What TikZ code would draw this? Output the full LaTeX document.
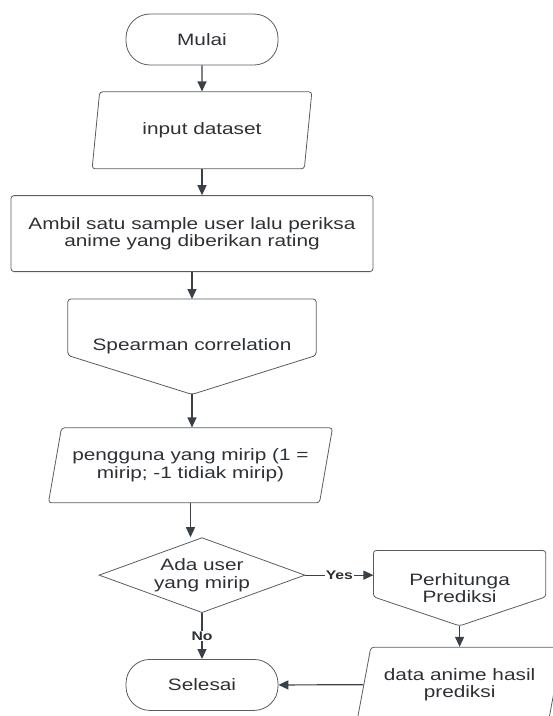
\documentclass[tikz,border=0pt]{standalone}
\usepackage{fontspec}
\setmainfont{Liberation Sans}[FakeStretch=1.26]
\usetikzlibrary{arrows.meta,positioning,shapes.geometric}
\definecolor{lineclr}{RGB}{58,64,72}
\definecolor{edgeclr}{RGB}{88,92,98}
\definecolor{txtclr}{RGB}{45,48,52}

\begin{document}
\begin{tikzpicture}[
      x=1pt,y=1pt,
      font=\fontsize{16.5}{17.5}\selectfont,
      base/.style={draw=edgeclr,line width=0.8pt,align=center,inner sep=0pt,text=txtclr},
      terminal/.style={base,rounded corners=24pt,minimum width=152pt,minimum height=51pt},
      process/.style={base,rounded corners=3pt,minimum width=362pt,minimum height=76pt},
      io/.style={base,trapezium,trapezium stretches=true,rounded corners=3pt},
      decision/.style={base,diamond,aspect=2.75,minimum width=206pt,minimum height=75pt},
      offpage/.style={align=center,inner sep=0pt,text=txtclr},
      outline/.style={draw=edgeclr,line width=0.8pt,rounded corners=3pt},
      flow/.style={draw=lineclr,line width=1.2pt,-{Triangle[length=10pt,width=9pt]}},
      lbl/.style={font=\bfseries\fontsize{12.5}{14}\selectfont,text=txtclr,fill=white,inner sep=1pt}
    ]
    \useasboundingbox (0,0) rectangle (553,-716);
    \clip (0,0) rectangle (553,-716);

    \node[terminal] (start) at (202,-39.5) {Mulai};
    \node[io,trapezium left angle=74,trapezium right angle=106,
          minimum width=220pt,minimum height=77pt,below=26pt of start] (input) {input dataset};
    \node[process,below=26pt of input,xshift=-10pt] (ambil)
      {Ambil satu sample user lalu periksa\\anime yang diberikan rating};

    % spearman: off-page connector drawn round a plain node
    \node[offpage,minimum width=248pt,minimum height=95pt,below=27pt of ambil] (spear)
      {Spearman correlation};
    \draw[outline] (spear.north west) -- (spear.north east) -- ([yshift=39pt]spear.south east)
      -- (spear.south) -- ([yshift=39pt]spear.south west) -- cycle;

    \node[io,trapezium left angle=70,trapezium right angle=110,
          minimum width=285pt,minimum height=75pt,below=33pt of spear,xshift=-1.5pt] (peng)
      {pengguna yang mirip (1 =\\mirip; -1 tidiak mirip)};
    \node[decision,below=34pt of peng,xshift=11.5pt] (dec) {Ada user\\yang mirip};
    \node[terminal,below=46pt of dec] (end) {Selesai};

    \node[offpage,minimum width=172pt,minimum height=75pt,right=68pt of dec,yshift=-13pt] (perh)
      {Perhitunga\\Prediksi};
    \draw[outline] (perh.north west) -- (perh.north east) -- ([yshift=29pt]perh.south east)
      -- (perh.south) -- ([yshift=29pt]perh.south west) -- cycle;
    \node[io,trapezium left angle=70,trapezium right angle=110,
          minimum width=206pt,minimum height=75pt,below=21pt of perh] (data)
      {data anime hasil\\prediksi};

    \draw[flow] (start) -- (input);
    \draw[flow] (input.south) -- (input.south |- ambil.north);
    \draw[flow] (ambil) -- (spear);
    \draw[flow] (spear.south) -- (spear.south |- peng.north);
    \draw[flow] (peng.south) -- (peng.south |- dec.north);
    \draw[flow] (dec.east) -- node[lbl] {Yes} (dec.east -| perh.west);
    \draw[flow] (dec) -- node[lbl] {No} (end);
    \draw[flow] (perh.south) -- (data.north);
    \draw[flow] (data.west) -- (end.east);
  \end{tikzpicture}
\end{document}
